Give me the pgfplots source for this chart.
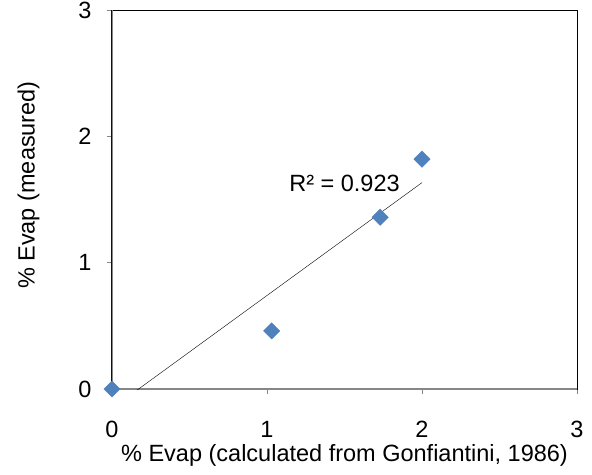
\documentclass[border=0pt]{standalone}
\usepackage{fontspec}
\setmainfont{Liberation Sans}
\usepackage{pgfplots}
\usepackage{pgfplotstable}
\pgfplotsset{compat=1.18}
\definecolor{xlblue}{HTML}{4F81BD}
\definecolor{axgray}{HTML}{868686}

\pgfplotstableread{
x     y
0     0
1.03  0.46
1.73  1.36
2.00  1.82
}\evapdata

\begin{document}
\begin{tikzpicture}
\begin{axis}[
  name=ax,
  scale only axis,
  width=465pt, height=379pt,
  xmin=0, xmax=3, ymin=0, ymax=3,
  xtick={0,1,2,3}, ytick={0,1,2,3},
  xtick pos=bottom, ytick pos=left,
  tick align=outside,
  major tick length=5pt,
  tick style={axgray, line width=0.8pt},
  axis line style={black, line width=1pt},
  /pgf/number format/assume math mode=true,
  ticklabel style={font=\fontsize{23.5}{26}\selectfont},
  label style={font=\fontsize{23.5}{26}\selectfont},
  xlabel={\% Evap (calculated from Gonfiantini, 1986)},
  ylabel={\% Evap (measured)},
  xlabel style={at={(axis description cs:0.5,-0.137)}, anchor=north},
  ylabel style={at={(axis description cs:-0.1484,0.538)}, anchor=south},
  xticklabel style={yshift=-24pt},
  yticklabel style={xshift=-12pt},
]
\draw[axgray, line width=1.4pt] (rel axis cs:0,0) -- (rel axis cs:0,1);
\draw[axgray, line width=1.4pt] (rel axis cs:0,0) -- (rel axis cs:1,0);
\addplot[black, line width=0.4pt, no marks]
  table[x=x, y={create col/linear regression={y=y}}] {\evapdata};
\addplot[only marks, mark=square*, mark size=5.8pt,
  mark options={rotate=45, fill=xlblue, draw=xlblue}]
  table[x=x, y=y] {\evapdata};
\node[font=\fontsize{23.5}{26}\selectfont] at (axis cs:1.50,1.63) {R² = 0.923};
\end{axis}
\pgfresetboundingbox
\path[use as bounding box] ([xshift=-112pt, yshift=-85pt]ax.south west)
  rectangle ([xshift=15pt, yshift=10pt]ax.north east);
\end{tikzpicture}
\end{document}
